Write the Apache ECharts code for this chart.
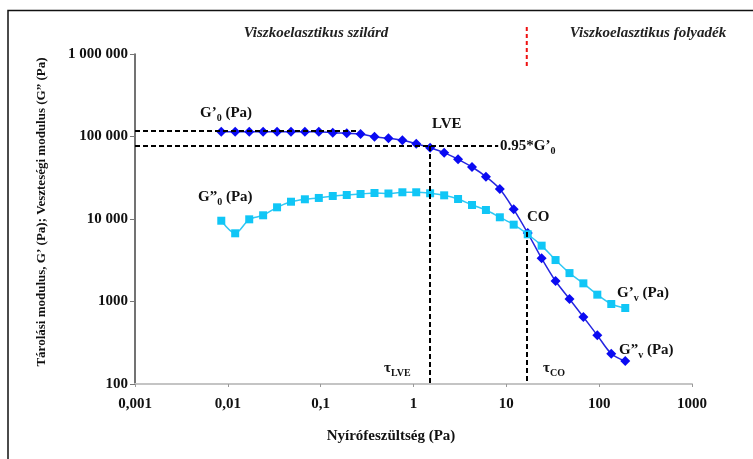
<!DOCTYPE html>
<html>
<head>
<meta charset="utf-8">
<script src="https://cdn.jsdelivr.net/npm/echarts@6/dist/echarts.min.js"></script>
<style>
  html, body { margin: 0; padding: 0; background: #fff; }
  #chart { width: 753px; height: 459px; }
</style>
</head>
<body>
<div id="chart"></div>
<script>
// shear stress (Pa)
var stress = [0.0085, 0.012, 0.017, 0.024, 0.0339, 0.0479, 0.0676, 0.0955, 0.135, 0.191,
  0.269, 0.38, 0.537, 0.759, 1.07, 1.51, 2.14, 3.02, 4.27, 6.03,
  8.51, 12.0, 17.0, 24.0, 33.9, 47.9, 67.6, 95.5, 135, 191];
// G' storage modulus (Pa) - diamonds
var storageMod = [114300, 114300, 114300, 114300, 114300, 114300, 114300, 114300, 111200, 109300,
  107200, 99500, 95100, 89900, 81800, 73100, 63700, 52900, 42700, 32600,
  23100, 13100, 6760, 3340, 1770, 1070, 649, 389, 233, 190];
// G'' loss modulus (Pa) - squares
var lossMod = [9530, 6710, 9910, 11090, 13860, 16200, 17340, 17990, 19010, 19540,
  20090, 20660, 20380, 21080, 21080, 20510, 19360, 17470, 14790, 12860,
  10490, 8540, 6530, 4750, 3180, 2210, 1660, 1210, 933, 834];

var xTickLabels = {0.001: '0,001', 0.01: '0,01', 0.1: '0,1', 1: '1', 10: '10', 100: '100', 1000: '1000'};
var yTickLabels = {100: '100', 1000: '1000', 10000: '10 000', 100000: '100 000', 1000000: '1 000 000'};

var g0Level = 118900;     // plateau G'0
var lveLevel = 76700;     // 0.95*G'0
var tauLVE = 1.51;
var tauCO = 16.6;
var coLevel = 6950;

var serif = '"Liberation Serif", "Times New Roman", serif';
function toPairs(xs, ys) {
  var out = [];
  for (var i = 0; i < xs.length; i++) out.push([xs[i], ys[i]]);
  return out;
}
var dash = {color: '#000', width: 2, type: [5, 3]};

var chart = echarts.init(document.getElementById('chart'));

var option = {
  animation: false,
  backgroundColor: '#fff',
  grid: {left: 135, right: 61, top: 54, bottom: 75},
  xAxis: {
    type: 'log', logBase: 10, min: 0.001, max: 1000,
    splitLine: {show: false},
    axisLine: {lineStyle: {color: '#c4c4c4', width: 2}},
    axisTick: {length: 3, lineStyle: {color: '#999'}},
    minorTick: {show: false},
    axisLabel: {
      margin: 13, color: '#111', fontFamily: serif, fontWeight: 'bold', fontSize: 15,
      formatter: function (v) { return xTickLabels[+v.toPrecision(3)] || ''; }
    }
  },
  yAxis: {
    type: 'log', logBase: 10, min: 100, max: 1000000,
    splitLine: {show: false},
    axisLine: {show: true, lineStyle: {color: '#444', width: 1.5}},
    axisTick: {show: true, length: 5, lineStyle: {color: '#777'}},
    axisLabel: {
      margin: 7, color: '#111', fontFamily: serif, fontWeight: 'bold', fontSize: 15,
      formatter: function (v) { return yTickLabels[+v.toPrecision(3)] || ''; }
    }
  },
  series: [
    {
      name: "G'",
      type: 'line',
      data: toPairs(stress, storageMod),
      smooth: 0.3,
      symbol: 'diamond',
      symbolSize: 10,
      itemStyle: {color: '#0a0af2'},
      lineStyle: {color: '#2626e0', width: 1.5},
      z: 3,
      markLine: {
        silent: true, symbol: 'none', label: {show: false},
        lineStyle: dash,
        data: [
          [{coord: [0.001, g0Level]}, {coord: [0.246, g0Level]}],
          [{coord: [0.001, lveLevel]}, {coord: [8.17, lveLevel]}],
          [{coord: [tauLVE, lveLevel]}, {coord: [tauLVE, 100]}],
          [{coord: [tauCO, coLevel]}, {coord: [tauCO, 100]}]
        ]
      }
    },
    {
      name: "G''",
      type: 'line',
      data: toPairs(stress, lossMod),
      smooth: 0.3,
      symbol: 'rect',
      symbolSize: 8,
      itemStyle: {color: '#10c6f6'},
      lineStyle: {color: '#30c8f4', width: 1.5},
      z: 4
    }
  ]
};
chart.setOption(option);

var boldLbl = 'bold 15px ' + serif;
function label(x, y, text, rich) {
  return {
    type: 'text', x: x, y: y, z: 50,
    style: {
      text: text, rich: rich, font: boldLbl, fill: '#111',
      align: 'left', verticalAlign: 'middle', textAlign: 'left', textVerticalAlign: 'middle'
    }
  };
}
var subRich = {
  a: {font: boldLbl, fill: '#111', lineHeight: 20, verticalAlign: 'middle'},
  s: {font: 'bold 10px ' + serif, fill: '#111', lineHeight: 20, verticalAlign: 'bottom'}
};
var coX = chart.convertToPixel({gridIndex: 0}, [tauCO, 1000])[0];

chart.setOption({
  graphic: [
    {type: 'polyline', z: 40, shape: {points: [[8, 459], [8, 10.5], [753, 10.5]]},
      style: {stroke: '#111', lineWidth: 1.5, fill: null}},
    {type: 'line', z: 40, shape: {x1: coX, y1: 27, x2: coX, y2: 69},
      style: {stroke: '#ee1111', lineWidth: 2, lineDash: [4, 3]}},
    {type: 'text', x: 316, y: 33, z: 50,
      style: {text: 'Viszkoelasztikus szilárd', font: 'italic bold 15px ' + serif, fill: '#222',
        align: 'center', verticalAlign: 'middle', textAlign: 'center', textVerticalAlign: 'middle'}},
    {type: 'text', x: 648, y: 33, z: 50,
      style: {text: 'Viszkoelasztikus folyadék', font: 'italic bold 15px ' + serif, fill: '#222',
        align: 'center', verticalAlign: 'middle', textAlign: 'center', textVerticalAlign: 'middle'}},
    {type: 'text', x: 391, y: 436, z: 50,
      style: {text: 'Nyírófeszültség (Pa)', font: 'bold 15px ' + serif, fill: '#111',
        align: 'center', verticalAlign: 'middle', textAlign: 'center', textVerticalAlign: 'middle'}},
    {type: 'text', x: 42, y: 212, rotation: Math.PI / 2, z: 50,
      style: {text: 'Tárolási modulus, G’ (Pa); Veszteségi modulus (G” (Pa)', font: 'bold 13px ' + serif, fill: '#111',
        align: 'center', verticalAlign: 'middle', textAlign: 'center', textVerticalAlign: 'middle'}},
    label(200, 113, '{a|G’}{s|0}{a| (Pa)}', subRich),
    label(198, 197, '{a|G”}{s|0}{a| (Pa)}', subRich),
    label(432, 124, 'LVE'),
    label(500, 146, '{a|0.95*G’}{s|0}', subRich),
    label(527, 217, 'CO'),
    label(617, 293, '{a|G’}{s|v}{a| (Pa)}', subRich),
    label(619, 350, '{a|G”}{s|v}{a| (Pa)}', subRich),
    label(384, 368, '{a|τ}{s|LVE}', subRich),
    label(543, 368, '{a|τ}{s|CO}', subRich)
  ]
});
</script>
</body>
</html>
